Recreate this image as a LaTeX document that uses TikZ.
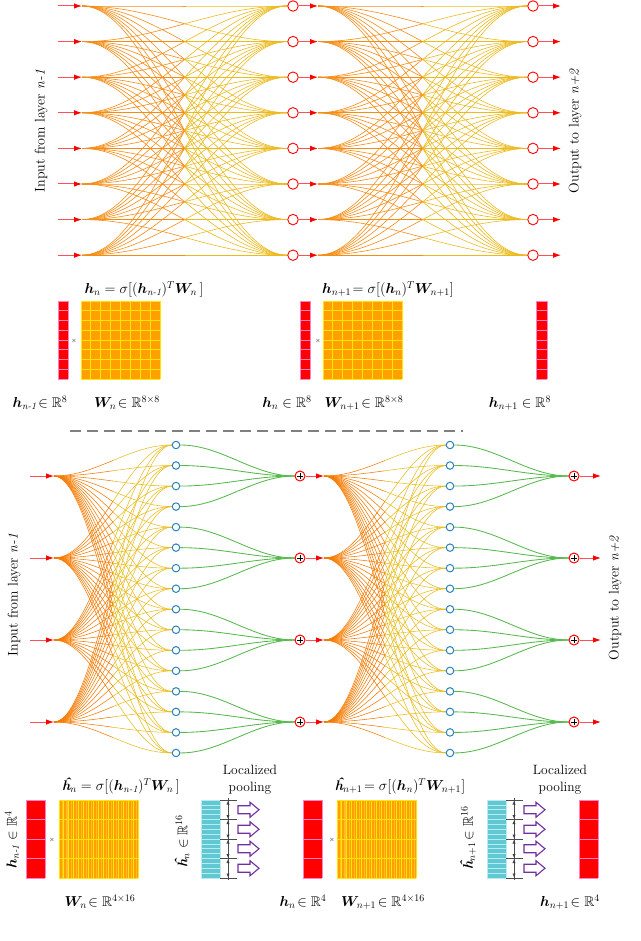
\documentclass[tikz,border=0pt]{standalone}
\usepackage{amsmath,amssymb,bm}
\usepackage{fontspec}
\usetikzlibrary{calc,arrows.meta}
\definecolor{arrred}{RGB}{255,80,90}
\definecolor{tipred}{RGB}{255,0,0}
\definecolor{fanA}{RGB}{245,140,20}
\definecolor{fanB}{RGB}{235,186,30}
\definecolor{fanC}{RGB}{246,122,0}
\definecolor{fanD}{RGB}{233,188,30}
\definecolor{grn}{RGB}{85,185,75}
\definecolor{blu}{RGB}{40,130,190}
\definecolor{matO}{RGB}{255,160,0}
\definecolor{matL}{RGB}{255,190,40}
\definecolor{matY}{RGB}{255,232,0}
\definecolor{vecR}{RGB}{255,0,0}
\definecolor{vecP}{RGB}{255,130,200}
\definecolor{cyn}{RGB}{95,200,210}
\definecolor{cynL}{RGB}{185,235,240}
\definecolor{purp}{RGB}{112,48,160}
\definecolor{dashg}{RGB}{128,128,128}
\pgfdeclarelayer{bg}
\pgfsetlayers{bg,main}
\newcommand\myHh{\text{\bfseries\itshape ĥ}}
\newcommand\mySCurve[4]{%
  \draw[#1] (#3) cos ($(#3)!.5!(#4)$);
  \draw[#2] ($(#3)!.5!(#4)$) sin (#4);}
\newcommand\myGrid[8]{%
  \fill[#7] (#1,#2) rectangle (#3,#4);
  \foreach \c in {0,...,#5} \draw[#8] ({#1+(#3-#1)*\c/#5},#2) -- ({#1+(#3-#1)*\c/#5},#4);
  \foreach \r in {0,...,#6} \draw[#8] (#1,{#2+(#4-#2)*\r/#6}) -- (#3,{#2+(#4-#2)*\r/#6});}
\begin{document}
\begin{tikzpicture}[x=1pt,y=-1pt,
  arr/.style={draw=arrred,line width=1pt,-{Latex[length=8pt,width=5.5pt,color=tipred]}},
  rc/.style={circle,draw=tipred,fill=white,line width=0.9pt,minimum size=10.5pt,inner sep=0pt},
  pc/.style={circle,draw=tipred,fill=white,line width=1pt,minimum size=10pt,inner sep=0pt,
    path picture={\draw[black,line width=0.9pt]
      ([xshift=-2.8pt]path picture bounding box.center) -- ([xshift=2.8pt]path picture bounding box.center)
      ([yshift=-2.8pt]path picture bounding box.center) -- ([yshift=2.8pt]path picture bounding box.center);}},
  bc/.style={circle,draw=blu,fill=white,line width=1pt,minimum size=7.5pt,inner sep=0pt},
  fa/.style={draw=fanA,line width=0.6pt},
  fb/.style={draw=fanB,line width=0.6pt},
  fc/.style={draw=fanC,line width=0.55pt},
  fd/.style={draw=fanD,line width=0.55pt},
  gr/.style={draw=grn,line width=0.85pt},
  lab/.style={font=\fontsize{14}{16}\selectfont,inner sep=0pt},
  eq/.style={font=\fontsize{14}{16}\selectfont,inner sep=0pt},
  tms/.style={font=\fontsize{6}{6}\selectfont,inner sep=0pt},
  dimln/.style={draw=black!70,line width=0.8pt},
  parr/.style={draw=purp,fill=white,line width=1.1pt,line join=miter}]
\useasboundingbox (0,0) rectangle (640,941);
% ---------------- top network ----------------
\foreach \i in {0,...,7}{
  \pgfmathsetmacro\yy{6+35.6*\i}
  \coordinate (tin\i) at (58,\yy);
  \coordinate (ta\i) at (82,\yy);
  \node[rc] (tc\i) at (293,\yy) {};
  \coordinate (tb\i) at (318,\yy);
  \node[rc] (td\i) at (533,\yy) {};
  \coordinate (tout\i) at (561,\yy);
}
\foreach \i in {0,...,7}{
  \draw[arr] (tin\i) -- (ta\i);
  \draw[arr] (tc\i) -- (tb\i);
  \draw[arr] (td\i) -- (tout\i);
}
\begin{pgfonlayer}{bg}
\foreach \i in {0,...,7}{\foreach \j in {0,...,7}{
  \mySCurve{fa}{fb}{ta\i}{tc\j.west}
  \mySCurve{fa}{fb}{tb\i}{td\j.west}
}}
\end{pgfonlayer}
\node[lab,rotate=90] (inT) at (41,131) {Input from layer \textit{n-1}};
\node[lab,rotate=90] (outT) at (575,131) {Output to layer \textit{n+2}};
% ---------------- top matrices ----------------
\myGrid{58}{301}{68}{379}{1}{8}{vecR}{vecP,line width=.8pt}
\myGrid{81}{301}{160}{379}{8}{8}{matO}{matY,line width=1pt}
\myGrid{300}{301}{310}{379}{1}{8}{vecR}{vecP,line width=.8pt}
\myGrid{323}{301}{402}{379}{8}{8}{matO}{matY,line width=1pt}
\myGrid{536}{301}{547}{379}{1}{8}{vecR}{vecP,line width=.8pt}
\node[tms] (x1) at (74,341) {$\times$};
\node[tms] (x2) at (318,341) {$\times$};
\node[eq] (f1) at (144,289) {$\bm{h}_{n} = \sigma[(\bm{h}_{\textit{n-1}})^{T}\bm{W}_{n}\,]$};
\node[eq] (f2) at (388,289) {$\bm{h}_{n+1}\!= \sigma[(\bm{h}_{n})^{T}\bm{W}_{n+1}]$};
\node[eq] (l1) at (40,403) {$\bm{h}_{\textit{n-1}}\!\in\mathbb{R}^{8}$};
\node[eq] (l2) at (127,403) {$\bm{W}_{n}\!\in\mathbb{R}^{8\times 8}$};
\node[eq] (l3) at (287,403) {$\bm{h}_{n}\in\mathbb{R}^{8}$};
\node[eq] (l4) at (364,403) {$\bm{W}_{n+1}\!\in\mathbb{R}^{8\times 8}$};
\node[eq] (l5) at (520,403) {$\bm{h}_{n+1}\in\mathbb{R}^{8}$};
% ---------------- dashed separator ----------------
\coordinate (dl) at (70,431);
\coordinate (dr) at (463,431);
\draw[dashg,line width=1.3pt,dash pattern=on 11pt off 6pt] (dl) -- (dr);
% ---------------- bottom network ----------------
\foreach \k in {0,...,3}{
  \pgfmathsetmacro\yy{476+82*\k}
  \coordinate (bin\k) at (30,\yy);
  \coordinate (ba\k) at (54,\yy);
  \node[pc] (bp\k) at (300,\yy) {};
  \coordinate (bb\k) at (324,\yy);
  \node[pc] (bq\k) at (574,\yy) {};
  \coordinate (bout\k) at (601,\yy);
}
\foreach \j in {0,...,15}{
  \pgfmathsetmacro\yy{445+20.53*\j}
  \node[bc] (bu\j) at (176,\yy) {};
  \node[bc] (bv\j) at (450,\yy) {};
}
\foreach \k in {0,...,3}{
  \draw[arr] (bin\k) -- (ba\k);
  \draw[arr] (bp\k) -- (bb\k);
  \draw[arr] (bq\k) -- (bout\k);
}
\begin{pgfonlayer}{bg}
\foreach \k in {0,...,3}{\foreach \j in {0,...,15}{
  \mySCurve{fc}{fd}{ba\k}{bu\j.west}
  \mySCurve{fc}{fd}{bb\k}{bv\j.west}
}}
\foreach \j in {0,...,15}{
  \pgfmathtruncatemacro\kk{\j/4}
  \mySCurve{gr}{gr}{bu\j.east}{bp\kk.west}
  \mySCurve{gr}{gr}{bv\j.east}{bq\kk.west}
}
\end{pgfonlayer}
\node[lab,rotate=90] (inB) at (14,595) {Input from layer \textit{n-1}};
\node[lab,rotate=90] (outB) at (615,598) {Output to layer \textit{n+2}};
% ---------------- bottom matrices ----------------
\myGrid{26}{800}{45}{878}{1}{4}{vecR}{vecP,line width=.9pt}
\fill[matO] (59,800) rectangle (138,878);
\foreach \c in {0,...,15} \fill[matL] ({59+79*\c/16+2.5},800) rectangle ({59+79*\c/16+3.6},878);
\myGrid{59}{800}{138}{878}{16}{4}{matO,opacity=0}{matY,line width=.9pt}
\myGrid{201}{800}{220}{878}{1}{16}{cyn}{cynL,line width=.7pt}
\myGrid{303}{800}{322}{878}{1}{4}{vecR}{vecP,line width=.9pt}
\fill[matO] (337,800) rectangle (416,878);
\foreach \c in {0,...,15} \fill[matL] ({337+79*\c/16+2.5},800) rectangle ({337+79*\c/16+3.6},878);
\myGrid{337}{800}{416}{878}{16}{4}{matO,opacity=0}{matY,line width=.9pt}
\myGrid{487}{800}{506}{878}{1}{16}{cyn}{cynL,line width=.7pt}
\myGrid{579}{800}{598}{878}{1}{4}{vecR}{vecP,line width=.9pt}
% pooling brackets and arrows
\foreach \xa/\xm/\xb/\pa in {220/228/237/238, 506/514/523/524}{
  \foreach \s in {0,...,4} \draw[dimln] (\xa,{800+19.5*\s}) -- (\xb,{800+19.5*\s});
  \draw[draw=black!70,line width=0.5pt] (\xm,798) -- (\xm,880);
  \foreach \s in {0,...,3}{
    \fill[black!75] (\xm,{800+19.5*\s+1.2}) -- ({\xm-1.6},{800+19.5*\s+4.5}) -- ({\xm+1.6},{800+19.5*\s+4.5}) -- cycle;
    \fill[black!75] (\xm,{800+19.5*\s+18.3}) -- ({\xm-1.6},{800+19.5*\s+15}) -- ({\xm+1.6},{800+19.5*\s+15}) -- cycle;
  }
  \foreach \s in {0,...,3}{
    \pgfmathsetmacro\yc{800+19.5*\s+9.75}
    \draw[parr] (\pa,{\yc-4}) -- ({\pa+12},{\yc-4}) -- ({\pa+12},{\yc-7.5}) -- ({\pa+21},\yc) -- ({\pa+12},{\yc+7.5}) -- ({\pa+12},{\yc+4}) -- (\pa,{\yc+4}) -- cycle;
  }
}
\node[tms] (x3) at (52,840) {$\times$};
\node[tms] (x4) at (332,840) {$\times$};
\node[eq] (f3) at (121,786) {$\myHh_{n} = \sigma[(\bm{h}_{\textit{n-1}})^{T}\bm{W}_{n}\,]$};
\node[eq] (f4) at (400,786) {$\myHh_{n+1}\!= \sigma[(\bm{h}_{n})^{T}\bm{W}_{n+1}]$};
\node[lab,align=center,font=\fontsize{13.5}{17}\selectfont] (lp1) at (250,780) {Localized\\pooling};
\node[lab,align=center,font=\fontsize{13.5}{17}\selectfont] (lp2) at (560,780) {Localized\\pooling};
\node[eq,rotate=90] (r1) at (12,840) {$\bm{h}_{\textit{n-1}}\in\mathbb{R}^{4}$};
\node[eq,rotate=90] (r2) at (182,841) {$\myHh_{n}\in\mathbb{R}^{16}$};
\node[eq,rotate=90] (r3) at (468,838) {$\myHh_{n+1}\!\in\mathbb{R}^{16}$};
\node[eq] (l6) at (100,902) {$\bm{W}_{n}\!\in\mathbb{R}^{4\times 16}$};
\node[eq] (l7) at (303,902) {$\bm{h}_{n}\!\in\mathbb{R}^{4}$};
\node[eq] (l8) at (383,902) {$\bm{W}_{n+1}\!\in\mathbb{R}^{4\times 16}$};
\node[eq] (l9) at (570,902) {$\bm{h}_{n+1}\!\in\mathbb{R}^{4}$};
\end{tikzpicture}
\end{document}
